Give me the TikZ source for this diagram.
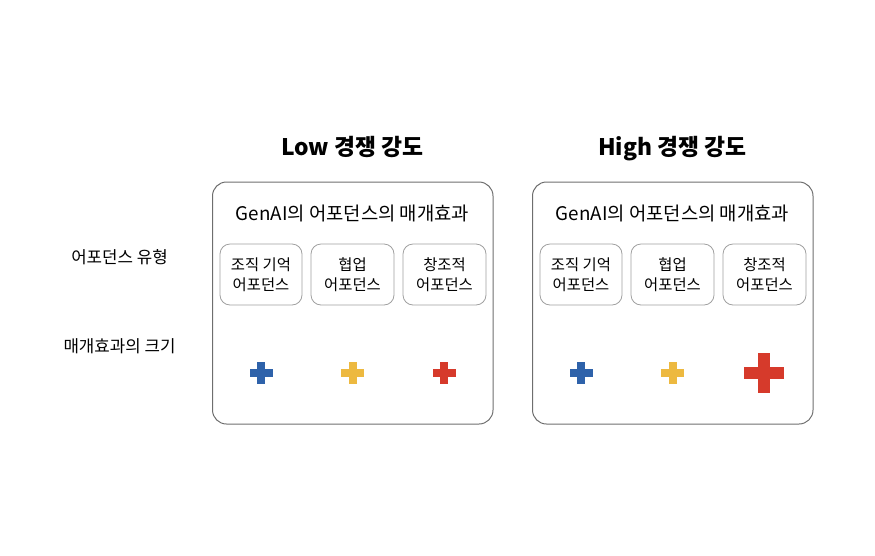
\documentclass[tikz,border=0pt]{standalone}
\usepackage{fontspec}
\setmainfont{Noto Sans CJK KR}
\definecolor{plusblue}{RGB}{46,98,170}
\definecolor{plusyellow}{RGB}{237,185,64}
\definecolor{plusred}{RGB}{214,58,43}
\definecolor{framegray}{RGB}{110,110,110}
\definecolor{boxgray}{RGB}{160,160,160}
\begin{document}
\begin{tikzpicture}[x=1pt,y=-1pt,
  frame/.style={draw=framegray, line width=1pt, rounded corners=14pt},
  typebox/.style={draw=boxgray, line width=0.8pt, rounded corners=10pt},
  title/.style={font=\fontsize{22.8}{26}\selectfont\bfseries, anchor=base},
  subtitle/.style={font=\fontsize{18.8}{22}\selectfont},
  boxtext/.style={font=\fontsize{15.4}{20}\selectfont, align=center},
  sidelabel/.style={font=\fontsize{16.8}{20}\selectfont},
  pics/plusmark/.style args={#1/#2/#3}{code={
    \fill[#3] (-#1,-#2) rectangle (#1,#2);
    \fill[#3] (-#2,-#1) rectangle (#2,#1);}}
]
\useasboundingbox (0,0) rectangle (875,555);

% side labels
\node[sidelabel] (lbltype) at (119.5,257) {어포던스 유형};
\node[sidelabel] (lblsize) at (119.5,346) {매개효과의 크기};

% Low panel
\node[title] (lowtitle) at (352.5,155) {Low 경쟁 강도};
\draw[frame] (212.5,182) rectangle (493,424);
\node[subtitle] (lowsub) at (352.5,213) {GenAI의 어포던스의 매개효과};
\draw[typebox] (220,244) rectangle (302,305);
\draw[typebox] (311,244) rectangle (394,305);
\draw[typebox] (403,244) rectangle (486,305);
\node[boxtext] (low1) at (261,274.5) {조직 기억\\어포던스};
\node[boxtext] (low2) at (352.5,274.5) {협업\\어포던스};
\node[boxtext] (low3) at (444.5,274.5) {창조적\\어포던스};
\pic at (261.3,373) {plusmark={11.3/4/plusblue}};
\pic at (352.7,373) {plusmark={11.3/4/plusyellow}};
\pic at (444.2,373) {plusmark={11.3/4/plusred}};

% High panel
\node[title] (hightitle) at (672.5,155) {High 경쟁 강도};
\draw[frame] (532.5,182) rectangle (813,424);
\node[subtitle] (highsub) at (672.5,213) {GenAI의 어포던스의 매개효과};
\draw[typebox] (540,244) rectangle (622,305);
\draw[typebox] (631,244) rectangle (714,305);
\draw[typebox] (723,244) rectangle (806,305);
\node[boxtext] (high1) at (581,274.5) {조직 기억\\어포던스};
\node[boxtext] (high2) at (672.5,274.5) {협업\\어포던스};
\node[boxtext] (high3) at (764.5,274.5) {창조적\\어포던스};
\pic at (581.3,373) {plusmark={11.3/4/plusblue}};
\pic at (672.7,373) {plusmark={11.3/4/plusyellow}};
\pic at (764.2,373) {plusmark={19.8/5.8/plusred}};
\end{tikzpicture}
\end{document}
